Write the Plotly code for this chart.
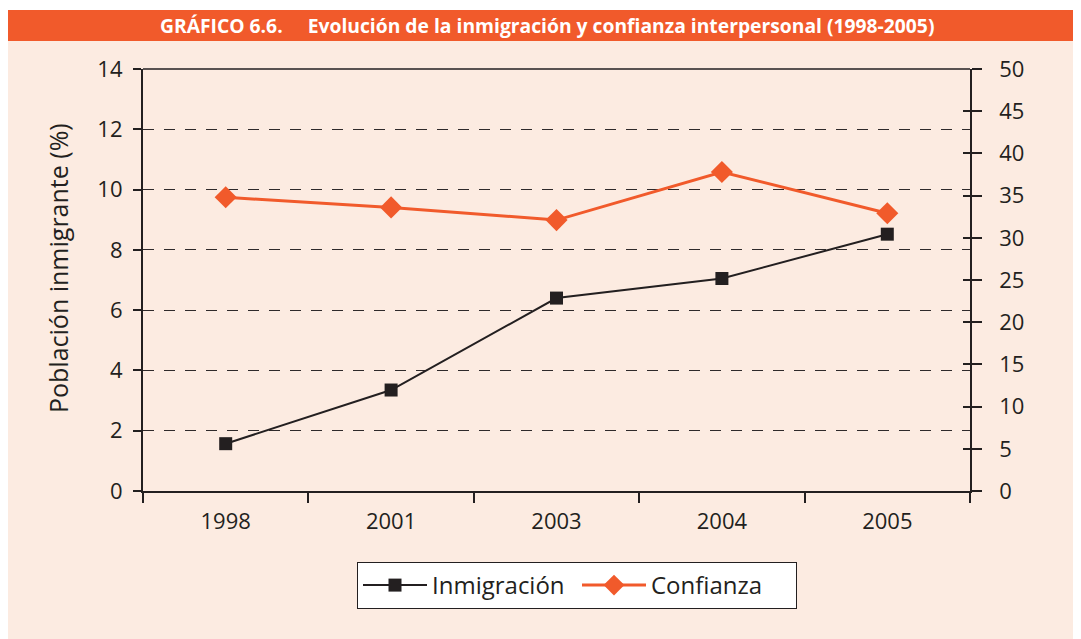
import plotly.graph_objects as go

years = ["1998", "2001", "2003", "2004", "2005"]
inmigracion = [1.57, 3.35, 6.4, 7.05, 8.52]
confianza = [34.8, 33.6, 32.1, 37.8, 32.9]
left_ticks = [0, 2, 4, 6, 8, 10, 12, 14]
right_ticks = [0, 5, 10, 15, 20, 25, 30, 35, 40, 45, 50]

# figure is drawn inside a page with an 8px body margin
OFF = 8
W, H = 1081 - OFF, 639 - OFF
L, R, T, B = 143, 970, 69, 491          # plot area in screen pixels
PW, PH = R - L, B - T

def px(sx):
    return (sx - L) / PW

def py(sy):
    return (B - sy) / PH

PEACH = "#FCEBE1"
ORANGE = "#F15A2B"
INK = "#231F20"
FONT = "'Open Sans', sans-serif"

fig = go.Figure()
fig.add_trace(go.Scatter(
    x=years, y=inmigracion, name="Inmigración", mode="lines+markers",
    line=dict(color=INK, width=2), marker=dict(symbol="square", size=13, color=INK),
    yaxis="y"))
fig.add_trace(go.Scatter(
    x=years, y=confianza, name="Confianza", mode="lines+markers",
    line=dict(color=ORANGE, width=3), marker=dict(symbol="diamond", size=17, color=ORANGE),
    yaxis="y2"))
# helper trace so that the inner right-hand ticks are drawn
fig.add_trace(go.Scatter(x=[years[0]], y=[None], yaxis="y3", showlegend=False,
                         hoverinfo="skip"))

fig.update_layout(
    width=W, height=H,
    margin=dict(l=L - OFF, r=W - (R - OFF), t=T - OFF, b=H - (B - OFF)),
    paper_bgcolor="white", plot_bgcolor="rgba(0,0,0,0)",
    font=dict(family=FONT, color=INK, size=22),
    showlegend=True,
    legend=dict(orientation="h", x=px(357), y=py(562), xanchor="left", yanchor="top",
                bgcolor="white", bordercolor=INK, borderwidth=1,
                font=dict(size=24, color=INK), itemwidth=64, tracegroupgap=0,
                entrywidth=140, entrywidthmode="pixels"),
    xaxis=dict(type="category", showline=True, linecolor=INK, linewidth=2.2,
               ticks="outside", ticklen=10, tickcolor=INK, tickwidth=1.5,
               tickson="boundaries", showgrid=False, tickfont=dict(size=22),
               ticklabelstandoff=9, range=[-0.5, 4.5]),
    yaxis=dict(range=[0, 14], tickvals=left_ticks, showline=True, linecolor=INK,
               linewidth=2.2, ticks="outside", ticklen=8, tickcolor=INK, tickwidth=1.5,
               showgrid=True, gridcolor="#2f2a2b", gridwidth=1.3, griddash="11px,10px",
               zeroline=False, tickfont=dict(size=22), ticklabelstandoff=6),
    yaxis2=dict(range=[0, 50], tickvals=right_ticks, overlaying="y", side="right",
                showline=True, linecolor=INK, linewidth=1.5, ticks="outside",
                ticklen=10, tickcolor=INK, tickwidth=1.5, showgrid=False,
                zeroline=False, tickfont=dict(size=22), ticklabelstandoff=13),
    yaxis3=dict(range=[0, 50], tickvals=right_ticks, overlaying="y", side="right",
                showline=False, ticks="inside", ticklen=7, tickcolor=INK, tickwidth=1.5,
                showticklabels=False, showgrid=False, zeroline=False),
)

shapes = [
    dict(type="rect", xref="paper", yref="paper", x0=px(OFF), x1=px(1200), y0=py(800),
         y1=py(41), fillcolor=PEACH, line=dict(width=0), layer="below"),
    dict(type="rect", xref="paper", yref="paper", x0=px(OFF), x1=px(1200), y0=py(41),
         y1=py(10), fillcolor=ORANGE, line=dict(width=0), layer="below"),
    dict(type="line", xref="paper", yref="paper", x0=0, x1=1, y0=1, y1=1,
         line=dict(color=INK, width=1.3), layer="above"),
]
fig.update_layout(shapes=shapes)

fig.add_annotation(xref="paper", yref="paper", x=px(547), y=py(26), showarrow=False,
                   text="<b>GRÁFICO 6.6.     Evolución de la inmigración y confianza interpersonal (1998-2005)</b>",
                   font=dict(family=FONT, size=19.3, color="white"),
                   xanchor="center", yanchor="middle")
fig.add_annotation(xref="paper", yref="paper", x=px(58), y=py(268), showarrow=False,
                   text="Población inmigrante (%)", textangle=-90,
                   font=dict(size=25, color=INK), xanchor="center", yanchor="middle")

fig.write_html("out.html")
